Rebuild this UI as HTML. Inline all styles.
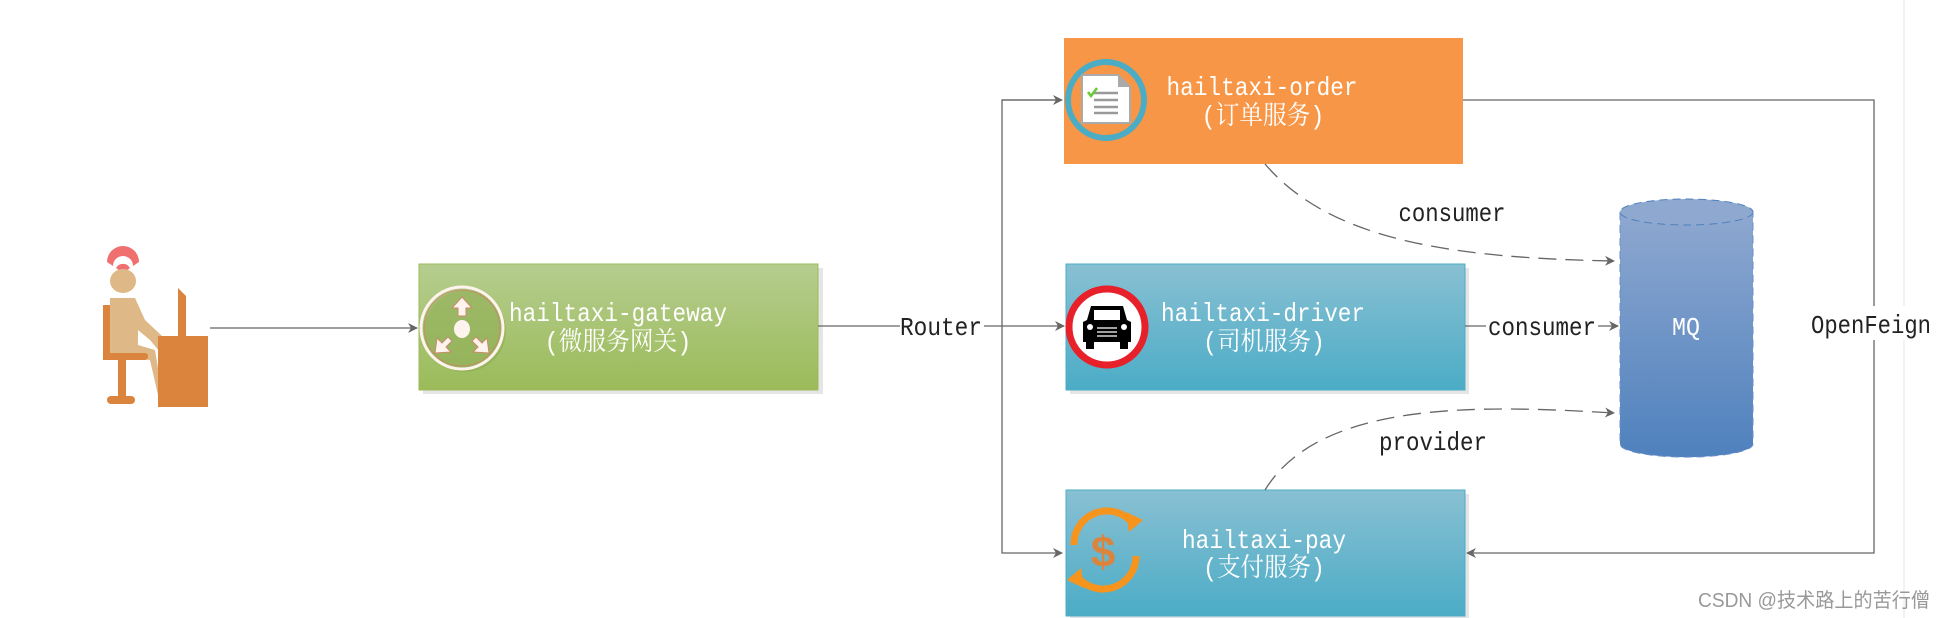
<!DOCTYPE html>
<html><head><meta charset="utf-8"><style>
html,body{margin:0;padding:0;background:#fff;width:1944px;height:618px;overflow:hidden}
text{font-family:"Liberation Mono","Noto Serif CJK SC","Noto Sans CJK SC",monospace}
</style></head><body>
<svg width="1944" height="618" viewBox="0 0 1944 618" xmlns="http://www.w3.org/2000/svg">
<defs>
<linearGradient id="g" x1="0" y1="0" x2="0" y2="1"><stop offset="0" stop-color="#B5CD8F"/><stop offset="1" stop-color="#9BBB59"/></linearGradient>
<linearGradient id="b" x1="0" y1="0" x2="0" y2="1"><stop offset="0" stop-color="#89C0D3"/><stop offset="1" stop-color="#4BACC6"/></linearGradient>
<linearGradient id="m" x1="0" y1="0" x2="0" y2="1"><stop offset="0" stop-color="#8EA8D0"/><stop offset="1" stop-color="#4F81BD"/></linearGradient>
<marker id="ar" markerWidth="10" markerHeight="10" refX="9" refY="5" orient="auto" markerUnits="userSpaceOnUse"><path d="M0,0 L10,5 L0,10 L3,5 z" fill="#666"/></marker>
</defs>
<line x1="1904" y1="0" x2="1904" y2="618" stroke="#eee" stroke-width="1.5"/>
<!-- person -->
<path d="M107,262 A16,16 0 0 1 139,262 L133,266 A10,10 0 0 0 113,266 z" fill="#F07070"/>
<path d="M116,268 A8,8 0 0 1 130,268 L126,271 A4,4 0 0 0 120,271 z" fill="#F07070"/>
<ellipse cx="123" cy="281" rx="13" ry="12" fill="#DEB887"/>
<path d="M110,298 L135,298 L145,320 L162,336 L160,352 L150,340 L138,330 L138,345 L155,350 L160,380 L158,395 L150,360 L110,356 z" fill="#DEB887"/>
<rect x="103" y="305" width="7" height="55" fill="#DB843D"/>
<rect x="103" y="353" width="45" height="7" rx="3" fill="#DB843D"/>
<rect x="118" y="360" width="8" height="38" fill="#DB843D"/>
<rect x="107" y="396" width="28" height="8" rx="4" fill="#DB843D"/>
<path d="M178,288 L186,296 L186,336 L178,336 z" fill="#DB843D"/>
<rect x="158" y="336" width="50" height="71" fill="#DB843D"/>
<line x1="210" y1="328" x2="417" y2="328" stroke="#666" stroke-width="1.3" marker-end="url(#ar)"/>
<!-- gateway -->
<rect x="423" y="268" width="400" height="126" fill="#e5e5e5"/>
<rect x="419" y="264" width="399" height="126" fill="url(#g)" stroke="#9BBB59"/>
<circle cx="465" cy="331" r="41" fill="#8fae55" opacity=".6"/>
<circle cx="462" cy="328" r="41" fill="none" stroke="#FFF3EE" stroke-width="3"/>
<circle cx="462" cy="328" r="38" fill="none" stroke="#C98A6A" stroke-width="1"/>
<ellipse cx="462" cy="329" rx="8" ry="9" fill="#FFF3EE"/>
<path d="M462,297 L472,308 L466,308 L466,316 L458,316 L458,308 L452,308 z" fill="#FFF3EE" stroke="#C98A6A"/>
<path d="M435,353 L437,338 L442,343 L448,337 L452,341 L446,347 L451,352 z" fill="#FFF3EE" stroke="#C98A6A"/>
<path d="M489,353 L487,338 L482,343 L476,337 L472,341 L478,347 L473,352 z" fill="#FFF3EE" stroke="#C98A6A"/>
<text x="618" y="321" fill="#fff" font-size="26" text-anchor="middle" textLength="218" lengthAdjust="spacingAndGlyphs">hailtaxi-gateway</text>
<text x="618" y="350" fill="#fff" font-size="26" text-anchor="middle" textLength="147" lengthAdjust="spacingAndGlyphs">(微服务网关)</text>
<!-- router -->
<line x1="818" y1="326" x2="900" y2="326" stroke="#666" stroke-width="1.3"/>
<polyline points="984,326 1002,326" stroke="#666" stroke-width="1.3" fill="none"/>
<text x="941" y="335" font-size="26" text-anchor="middle" fill="#222" textLength="82" lengthAdjust="spacingAndGlyphs">Router</text>
<polyline points="1062,100 1002,100 1002,553 1062,553" stroke="#666" stroke-width="1.3" fill="none" marker-end="url(#ar)"/>
<line x1="1002" y1="100" x2="1062" y2="100" stroke="#666" stroke-width="1.3" marker-end="url(#ar)"/>
<line x1="1002" y1="326" x2="1064" y2="326" stroke="#666" stroke-width="1.3" marker-end="url(#ar)"/>
<!-- order -->
<rect x="1064" y="38" width="399" height="126" fill="#F79646"/>
<circle cx="1106" cy="100" r="38" fill="none" stroke="#4BACC6" stroke-width="6"/>
<path d="M1082,75 L1118,75 L1130,87 L1130,123 L1082,123 z" fill="#fff" stroke="#aaa" stroke-width="2"/>
<path d="M1118,75 L1118,87 L1130,87" fill="#aaa"/>
<g stroke="#999" stroke-width="2.5"><line x1="1094" y1="93" x2="1118" y2="93"/><line x1="1094" y1="100" x2="1118" y2="100"/><line x1="1094" y1="107" x2="1118" y2="107"/><line x1="1094" y1="113" x2="1118" y2="113"/></g>
<path d="M1088,92 L1091,96 L1097,88" stroke="#6c3" stroke-width="2.5" fill="none"/>
<text x="1262" y="95" fill="#fff" font-size="26" text-anchor="middle" textLength="191" lengthAdjust="spacingAndGlyphs">hailtaxi-order</text>
<text x="1263" y="124" fill="#fff" font-size="26" text-anchor="middle" textLength="123" lengthAdjust="spacingAndGlyphs">(订单服务)</text>
<!-- driver -->
<rect x="1070" y="268" width="399" height="126" fill="#e5e5e5"/>
<rect x="1066" y="264" width="399" height="126" fill="url(#b)" stroke="#4BACC6"/>
<circle cx="1107" cy="327" r="38" fill="#fff" stroke="#E8202A" stroke-width="7"/>
<path d="M1091,306 L1123,306 L1127,320 L1131,322 L1131,342 L1083,342 L1083,322 L1087,320 z" fill="#000"/>
<rect x="1094" y="310" width="26" height="10" fill="#fff"/>
<rect x="1086" y="340" width="8" height="9" fill="#000"/><rect x="1120" y="340" width="8" height="9" fill="#000"/>
<circle cx="1090" cy="327" r="3" fill="#fff"/><circle cx="1124" cy="327" r="3" fill="#fff"/>
<g stroke="#fff" stroke-width="1.2"><line x1="1097" y1="328" x2="1117" y2="328"/><line x1="1097" y1="332" x2="1117" y2="332"/><line x1="1097" y1="336" x2="1117" y2="336"/></g>
<text x="1263" y="321" fill="#fff" font-size="26" text-anchor="middle" textLength="204" lengthAdjust="spacingAndGlyphs">hailtaxi-driver</text>
<text x="1264" y="350" fill="#fff" font-size="26" text-anchor="middle" textLength="122" lengthAdjust="spacingAndGlyphs">(司机服务)</text>
<!-- pay -->
<rect x="1070" y="494" width="399" height="124" fill="#e5e5e5"/>
<rect x="1066" y="490" width="399" height="126" fill="url(#b)" stroke="#4BACC6"/>
<path d="M1074,545 A33,33 0 0 1 1134,525" stroke="#F7941D" stroke-width="7" fill="none"/>
<path d="M1126,512 L1143,520 L1129,532 z" fill="#F7941D"/>
<path d="M1136,556 A33,33 0 0 1 1076,575" stroke="#F7941D" stroke-width="7" fill="none"/>
<path d="M1084,588 L1067,580 L1081,568 z" fill="#F7941D"/>
<text x="1103" y="567" fill="#DB843D" font-size="44" font-weight="bold" text-anchor="middle" style="font-family:'Liberation Sans',sans-serif">$</text>
<text x="1264" y="548" fill="#fff" font-size="26" text-anchor="middle" textLength="164" lengthAdjust="spacingAndGlyphs">hailtaxi-pay</text>
<text x="1264" y="576" fill="#fff" font-size="26" text-anchor="middle" textLength="122" lengthAdjust="spacingAndGlyphs">(支付服务)</text>
<!-- MQ -->
<path d="M1620,212 L1620,444 A66,13 0 0 0 1753,444 L1753,212 z" fill="url(#m)"/>
<ellipse cx="1686.5" cy="212" rx="66.5" ry="13" fill="#8EA8D0" stroke="#4F81BD" stroke-dasharray="8,5"/>
<path d="M1620,212 L1620,444 A66,13 0 0 0 1753,444 L1753,212" fill="none" stroke="#6a8fc8" stroke-dasharray="8,5"/>
<text x="1686" y="335" fill="#fff" font-size="26" text-anchor="middle" textLength="28" lengthAdjust="spacingAndGlyphs">MQ</text>
<!-- consumer links -->
<line x1="1465" y1="326" x2="1486" y2="326" stroke="#666" stroke-width="1.3"/>
<line x1="1598" y1="326" x2="1618" y2="326" stroke="#666" stroke-width="1.3" marker-end="url(#ar)"/>
<text x="1542" y="335" fill="#222" font-size="26" text-anchor="middle" textLength="108" lengthAdjust="spacingAndGlyphs">consumer</text>
<path d="M1265,164 C1330,240 1450,258 1614,261" stroke="#666" stroke-width="1.3" fill="none" stroke-dasharray="18,9" marker-end="url(#ar)"/>
<text x="1452" y="221" fill="#222" font-size="26" text-anchor="middle" textLength="107" lengthAdjust="spacingAndGlyphs">consumer</text>
<path d="M1265,490 C1320,400 1480,405 1614,413" stroke="#666" stroke-width="1.3" fill="none" stroke-dasharray="18,9" marker-end="url(#ar)"/>
<text x="1433" y="450" fill="#222" font-size="26" text-anchor="middle" textLength="108" lengthAdjust="spacingAndGlyphs">provider</text>
<!-- openfeign -->
<polyline points="1463,100 1874,100 1874,553 1467,553" stroke="#666" stroke-width="1.3" fill="none" marker-end="url(#ar)"/>
<rect x="1810" y="306" width="124" height="34" fill="#fff"/>
<text x="1871" y="333" fill="#222" font-size="26" text-anchor="middle" textLength="120" lengthAdjust="spacingAndGlyphs">OpenFeign</text>
<text x="1814" y="607" fill="#999" font-size="20" text-anchor="middle" textLength="232" lengthAdjust="spacingAndGlyphs" style="font-family:'Liberation Sans','Noto Sans CJK SC',sans-serif">CSDN @技术路上的苦行僧</text>
</svg>
</body></html>
